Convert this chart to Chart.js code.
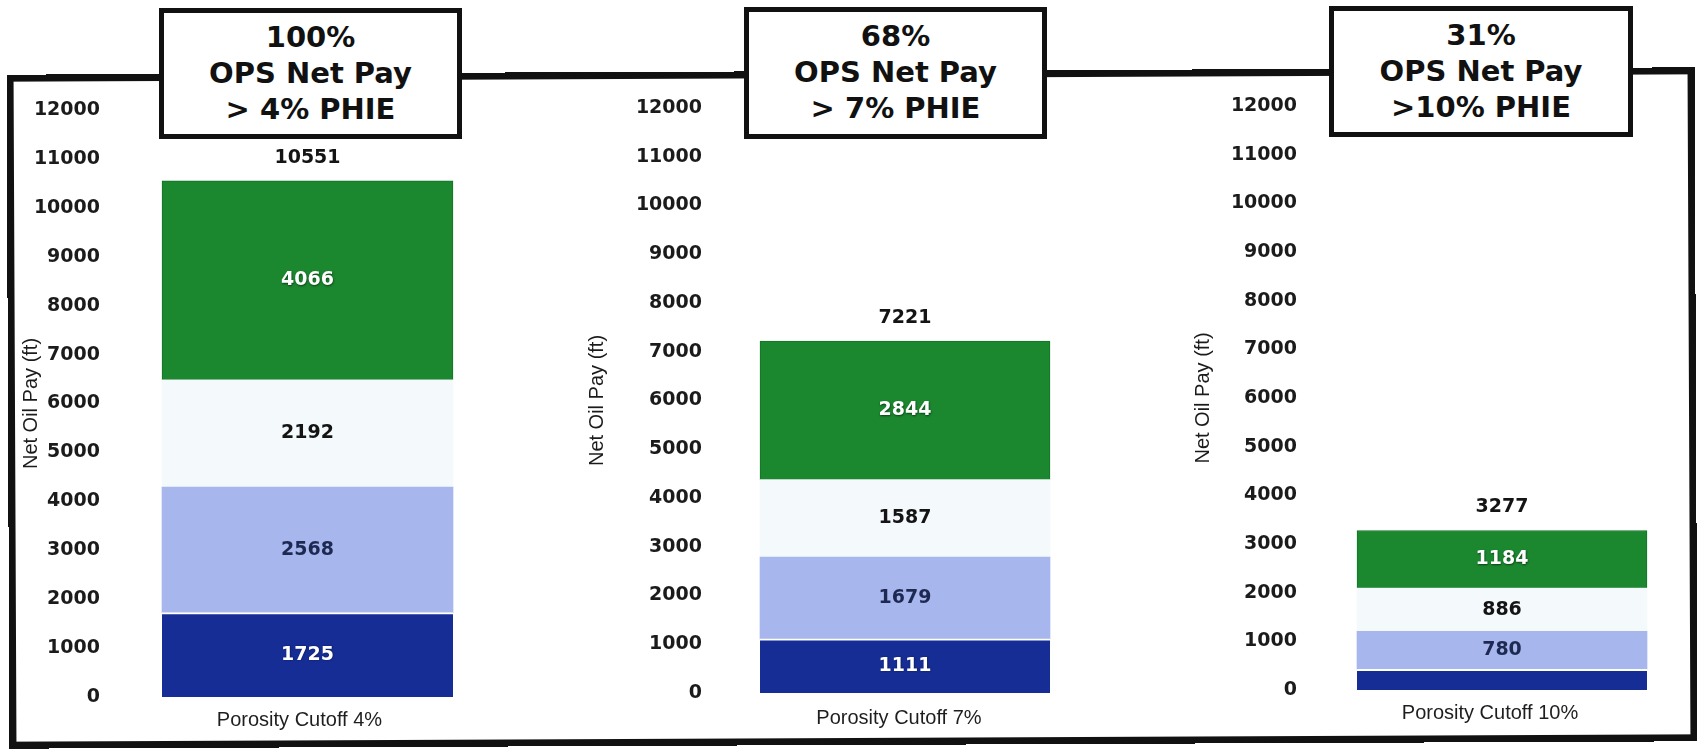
<!DOCTYPE html>
<html>
<head>
<meta charset="utf-8">
<script src="https://cdn.jsdelivr.net/npm/chart.js@4/dist/chart.umd.min.js"></script>
<style>
  html, body { margin: 0; padding: 0; background: #ffffff; }
  body { width: 1700px; height: 752px; position: relative; overflow: hidden; }
  canvas { position: absolute; top: 0; z-index: 1; }
  .frame { position: absolute; left: 8px; top: 71px; width: 1688px; height: 674px;
           border: 7px solid #111; box-sizing: border-box; z-index: 2; pointer-events: none;
           transform: rotate(-0.25deg); }
  .tbox { position: absolute; box-sizing: border-box; border: 5px solid #111; background: #fff;
          text-align: center; font: bold 29px/36px "DejaVu Sans", sans-serif; color: #111;
          padding-top: 6px; z-index: 3; white-space: nowrap; }
</style>
</head>
<body>
<div class="frame"></div>
<div class="tbox" id="t0" style="left:159px; top:8px; width:303px; height:131px;"></div>
<div class="tbox" id="t1" style="left:744px; top:7px; width:303px; height:132px;"></div>
<div class="tbox" id="t2" style="left:1329px; top:6px; width:304px; height:131px;"></div>
<canvas id="c0" width="492" height="752" style="left:15px;"></canvas>
<canvas id="c1" width="519" height="752" style="left:581px;"></canvas>
<canvas id="c2" width="512" height="752" style="left:1187px;"></canvas>
<script>
// ---- data ----
const categories = ['Porosity Cutoff 4%', 'Porosity Cutoff 7%', 'Porosity Cutoff 10%'];
const panelTitles = [
  ['100%', 'OPS Net Pay', '> 4% PHIE'],
  ['68%', 'OPS Net Pay', '> 7% PHIE'],
  ['31%', 'OPS Net Pay', '>10% PHIE']
];
const seriesDarkBlue  = [1725, 1111, 427];
const seriesLightBlue = [2568, 1679, 780];
const seriesPale      = [2192, 1587, 886];
const seriesGreen     = [4066, 2844, 1184];
const totals          = [10551, 7221, 3277];
const yTickValues     = [0, 1000, 2000, 3000, 4000, 5000, 6000, 7000, 8000, 9000, 10000, 11000, 12000];
const yAxisTitle      = 'Net Oil Pay (ft)';

// ---- layout / style (not data) ----
const panels = [
  { yW: 93,  top: 110, xH: 55, xPad: 11, bar: 291, lblOff: -8 },
  { yW: 129, top: 108, xH: 59, xPad: 13, bar: 290, lblOff: -6 },
  { yW: 118, top: 106, xH: 62, xPad: 11, bar: 290, lblOff: -12 }
];

panelTitles.forEach((lines, i) => {
  document.getElementById('t' + i).innerHTML = lines.map(s => '<div>' + s.replace(/ /g, '&nbsp;') + '</div>').join('');
});

const segmentLabels = {
  id: 'segmentLabels',
  afterDatasetsDraw(chart, args, opts) {
    const ctx = chart.ctx;
    ctx.save();
    ctx.textAlign = 'center';
    ctx.textBaseline = 'middle';
    ctx.font = 'bold 19px "DejaVu Sans", sans-serif';
    let topY = Infinity, cx = 0;
    chart.data.datasets.forEach((ds, di) => {
      const meta = chart.getDatasetMeta(di);
      meta.data.forEach((bar, i) => {
        const v = ds.data[i];
        const h = Math.abs(bar.base - bar.y);
        topY = Math.min(topY, bar.y);
        cx = bar.x;
        if (h < 26) return;
        ctx.save();
        ctx.fillStyle = ds.labelColor;
        if (ds.labelColor === '#ffffff') {
          ctx.shadowColor = 'rgba(0,0,0,0.55)';
          ctx.shadowBlur = 2;
          ctx.shadowOffsetX = 0.5;
          ctx.shadowOffsetY = 0.5;
        }
        ctx.fillText(String(v), bar.x, (bar.y + bar.base) / 2);
        ctx.restore();
      });
    });
    ctx.fillStyle = '#141414';
    ctx.fillText(String(opts.total), cx, topY - 23);
    ctx.restore();
  }
};

panels.forEach((p, i) => {
  new Chart(document.getElementById('c' + i), {
    type: 'bar',
    data: {
      labels: [categories[i]],
      datasets: [
        { label: 'dark', data: [seriesDarkBlue[i]], backgroundColor: '#172d96',
          borderColor: '#ffffff', borderWidth: { top: 2, left: 0, right: 0, bottom: 0 },
          borderSkipped: false, barThickness: p.bar, labelColor: '#ffffff' },
        { label: 'light', data: [seriesLightBlue[i]], backgroundColor: '#a7b7ee',
          borderWidth: 0, barThickness: p.bar, labelColor: '#1d2950' },
        { label: 'pale', data: [seriesPale[i]], backgroundColor: '#f4fafc',
          borderWidth: 0, barThickness: p.bar, labelColor: '#141414' },
        { label: 'green', data: [seriesGreen[i]], backgroundColor: '#1b872f',
          borderColor: '#137326', borderWidth: 1, borderSkipped: false,
          barThickness: p.bar, labelColor: '#ffffff' }
      ]
    },
    options: {
      responsive: false,
      animation: false,
      devicePixelRatio: 1,
      layout: { padding: { top: p.top, left: 0, right: 0, bottom: 0 } },
      plugins: {
        legend: { display: false },
        tooltip: { enabled: false },
        segmentLabels: { total: totals[i] }
      },
      scales: {
        x: {
          stacked: true,
          grid: { display: false, drawTicks: false },
          border: { display: false },
          ticks: { padding: p.xPad, labelOffset: p.lblOff, color: '#1e1e1e',
                   font: { family: '"Liberation Sans", Arial, sans-serif', size: 20 } },
          afterFit: s => { s.height = p.xH; }
        },
        y: {
          stacked: true,
          min: 0, max: 12000,
          grid: { display: false, drawTicks: false },
          border: { display: false },
          afterBuildTicks: s => { s.ticks = yTickValues.map(v => ({ value: v })); },
          ticks: { padding: 8, color: '#1b1b1b', callback: v => String(v),
                   font: { family: '"DejaVu Sans", sans-serif', size: 19, weight: 'bold' } },
          title: { display: true, text: yAxisTitle, color: '#1b1b1b',
                   font: { family: '"Liberation Sans", Arial, sans-serif', size: 20 } },
          afterFit: s => { s.width = p.yW; }
        }
      }
    },
    plugins: [segmentLabels]
  });
});
</script>
</body>
</html>
